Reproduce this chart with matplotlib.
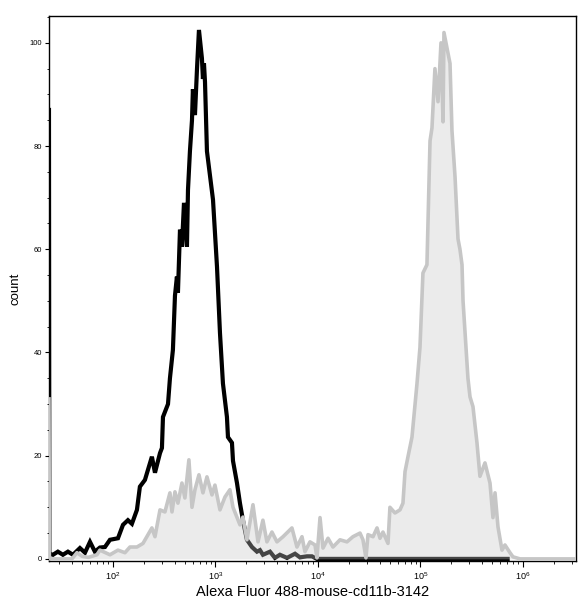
import numpy as np
import matplotlib
matplotlib.use('Agg')
import matplotlib.pyplot as plt
from matplotlib.ticker import FixedLocator, MultipleLocator, LogLocator, NullFormatter

plt.rcParams['font.family'] = ['Liberation Sans', 'DejaVu Sans']
plt.rcParams['mathtext.default'] = 'regular'

# --- data (log10 of intensity, count) ---
black_log = [1.376, 1.380, 1.415, 1.463, 1.512, 1.561, 1.610, 1.678, 1.727, 1.776, 1.824,
             1.873, 1.922, 1.971, 2.049, 2.098, 2.146, 2.185, 2.234, 2.263, 2.312,
             2.380, 2.410, 2.459, 2.478, 2.488, 2.537, 2.556, 2.585, 2.605, 2.624,
             2.634, 2.654, 2.673, 2.693, 2.722, 2.732, 2.751, 2.771, 2.780, 2.800,
             2.820, 2.839, 2.868, 2.878, 2.888, 2.898, 2.917, 2.976, 3.015, 3.044,
             3.073, 3.112, 3.122, 3.161, 3.171, 3.210, 3.239, 3.268, 3.307, 3.356,
             3.405, 3.434, 3.463, 3.532, 3.580, 3.629, 3.698, 3.776, 3.824, 3.893,
             3.941, 3.990, 5.850]
black_count = [87, 1.0, 0.8, 1.4, 0.8, 1.4, 0.8, 2.1, 1.2, 3.3, 1.4,
               2.2, 2.3, 3.7, 4.0, 6.6, 7.5, 6.8, 9.5, 14.0, 15.3,
               19.8, 16.7, 20.5, 21.5, 27.5, 30, 35, 40.5, 51, 54.7,
               51.6, 63.8, 60.5, 69, 60.5, 71.5, 79, 85, 91, 86,
               95, 102.5, 97, 93, 96, 92.4, 79, 69.6, 56.6, 43.8,
               34, 27.5, 23.6, 22.5, 19, 14.7, 10.8, 7.5, 3.7, 2.3,
               1.4, 1.7, 0.8, 1.4, 0.2, 0.8, 0.2, 1.0, 0.3, 0.5,
               0.5, 0, 0]

gray_log = [1.376, 1.380, 1.600, 1.649, 1.700, 1.760, 1.844, 1.873, 1.971, 2.049,
            2.117, 2.166, 2.234, 2.293, 2.380, 2.410, 2.459, 2.507, 2.556, 2.576,
            2.605, 2.634, 2.673, 2.702, 2.741, 2.771, 2.800, 2.839, 2.878, 2.917,
            2.966, 2.995, 3.044, 3.093, 3.141, 3.171, 3.239, 3.268, 3.307, 3.366,
            3.415, 3.463, 3.502, 3.551, 3.600, 3.659, 3.746, 3.795, 3.844, 3.873,
            3.922, 3.971, 3.990, 4.020, 4.049, 4.098, 4.146, 4.215, 4.283, 4.341,
            4.410, 4.439, 4.468, 4.488, 4.537, 4.576, 4.605, 4.634, 4.683, 4.702,
            4.751, 4.800, 4.829, 4.849, 4.878, 4.917, 4.966, 4.995, 5.024, 5.063,
            5.093, 5.112, 5.141, 5.171, 5.200, 5.220, 5.229, 5.288, 5.307, 5.337,
            5.366, 5.385, 5.405, 5.415, 5.463, 5.483, 5.512, 5.551, 5.580, 5.629,
            5.678, 5.707, 5.727, 5.756, 5.795, 5.824, 5.873, 5.902, 5.971, 6.520]
gray_count = [31, 0, 0, 1.2, 0.5, 0.3, 0.8, 1.7, 0.8, 1.7,
              1.2, 2.3, 2.3, 3.0, 6.0, 4.3, 9.5, 9.1, 12.8, 9.1,
              13.0, 10.8, 14.7, 11.8, 19.2, 10.0, 13.4, 16.3, 12.8, 15.9,
              12.4, 14.3, 9.5, 12.0, 13.4, 10.0, 6.6, 8.1, 3.7, 10.5,
              3.3, 7.5, 3.3, 5.2, 3.3, 4.3, 6.0, 2.3, 4.3, 1.4,
              3.3, 2.7, 0.2, 8.0, 2.1, 4.0, 2.3, 3.7, 3.3, 4.3,
              5.0, 3.7, 0.2, 4.7, 4.3, 6.0, 4.0, 5.2, 3.0, 10.0,
              8.9, 9.5, 10.8, 16.9, 19.8, 23.6, 34, 41, 55.4, 57,
              81, 83.5, 95, 88.6, 100, 84.7, 102, 96, 83, 74,
              62, 60, 57, 50, 35, 31.4, 29.5, 22.5, 16, 18.6,
              14.7, 8, 12.8, 6.2, 1.7, 2.7, 1.2, 0.4, 0, 0]

x_black = 10 ** np.array(black_log)
x_gray = 10 ** np.array(gray_log)

fig = plt.figure(figsize=(5.83, 6.0), dpi=100)
ax = fig.add_axes([0.084, 0.0655, 0.904, 0.9078])

ax.plot(x_black, black_count, color='black', lw=3.0, zorder=2, solid_joinstyle='miter')
ax.fill_between(x_gray, 0, gray_count, color='#c8c8c8', alpha=0.35, lw=0, zorder=3)
ax.plot(x_gray, gray_count, color='#c6c6c6', lw=2.6, zorder=4)

ax.set_xscale('log')
ax.set_xlim(10 ** 1.376, 10 ** 6.517)
ax.set_ylim(-0.35, 105.2)

ax.xaxis.set_major_locator(FixedLocator([1e2, 1e3, 1e4, 1e5, 1e6]))
ax.set_xticklabels(['$10^{2}$', '$10^{3}$', '$10^{4}$', '$10^{5}$', '$10^{6}$'])
ax.xaxis.set_minor_locator(LogLocator(base=10, subs=np.arange(2, 10), numticks=20))
ax.xaxis.set_minor_formatter(NullFormatter())
ax.yaxis.set_major_locator(MultipleLocator(20))
ax.yaxis.set_minor_locator(MultipleLocator(5))

ax.tick_params(axis='x', which='major', direction='out', length=4, width=0.8,
               labelsize=6.5, pad=3)
ax.tick_params(axis='x', which='minor', direction='out', length=2, width=0.6)
ax.tick_params(axis='y', which='major', direction='out', length=3, width=0.8,
               labelsize=5.5, pad=2)
ax.tick_params(axis='y', which='minor', direction='out', length=1.5, width=0.6)

for sp in ax.spines.values():
    sp.set_linewidth(1.0)
    sp.set_color('black')

ax.set_xlabel('Alexa Fluor 488-mouse-cd11b-3142', fontsize=10.5, labelpad=2)
ax.set_ylabel('count', fontsize=9.5, labelpad=6)

fig.savefig('out.png', dpi=100)
plt.close(fig)
